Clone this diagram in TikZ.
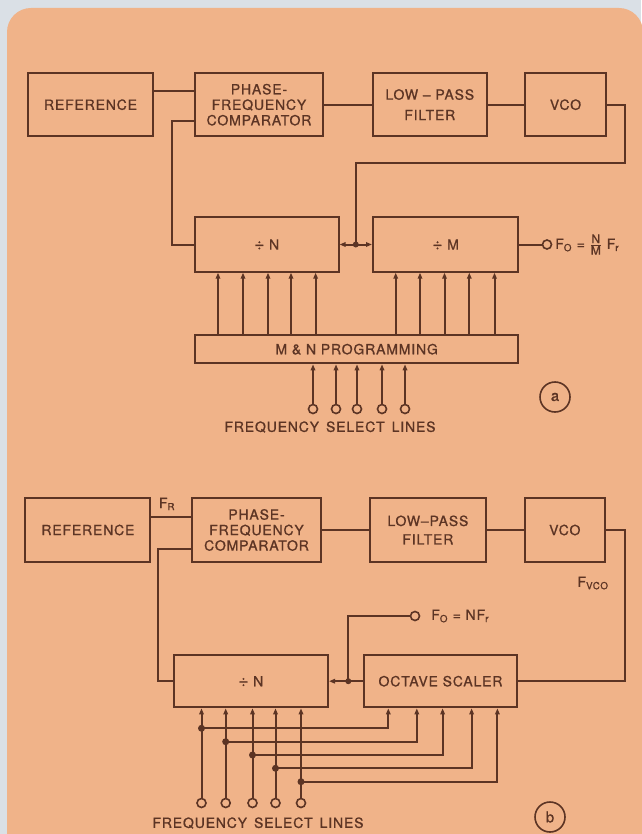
\documentclass[tikz,border=0pt]{standalone}
\usepackage{fontspec}
\setmainfont{TeX Gyre Heros}[LetterSpace=6,FakeBold=1]
\usetikzlibrary{arrows.meta,calc}
\definecolor{bggrey}{RGB}{218,224,230}
\definecolor{panel}{RGB}{240,179,137}
\definecolor{ink}{RGB}{92,52,36}
\newcommand{\dvd}{{\fontsize{17}{17}\selectfont ÷}}
\begin{document}
\begin{tikzpicture}[x=1pt,y=-1pt,line width=2pt,draw=ink,
  box/.style={draw=ink,line width=2pt,inner sep=0pt,align=center,font=\fontsize{14}{15.5}\selectfont,text=ink},
  pin/.style={draw=ink,circle,line width=1.6pt,inner sep=0pt,minimum size=9pt},
  lbl/.style={font=\fontsize{14}{15}\selectfont,text=ink,inner sep=0pt},
  sel/.style={font=\fontsize{14}{15}\selectfont,text=ink,inner sep=0pt},
  tag/.style={draw=ink,circle,line width=1.6pt,minimum size=30pt,inner sep=0pt,font=\fontsize{15}{15}\selectfont,text=ink},
  dot/.style={fill=ink,circle,inner sep=0pt,minimum size=6pt},
  arr/.style={-{Triangle[length=6pt,width=4.5pt]}}]
\useasboundingbox (0,0) rectangle (641,834);
\fill[bggrey] (0,0) rectangle (641,834);
\fill[panel,rounded corners=24pt] (7,8) rectangle (643,870);

% ---------------- (a)
\node[box,minimum width=125.5pt,minimum height=62.7pt] (refA) at (90.5,104.7) {REFERENCE};
\node[box,minimum width=128pt,minimum height=62.7pt] (pfcA) at (259,104.7) {PHASE-\\FREQUENCY\\COMPARATOR};
\node[box,minimum width=113.5pt,minimum height=62.7pt] (lpfA) at (429.8,104.7) {LOW \textendash\ PASS\\[5pt]FILTER};
\node[box,minimum width=81pt,minimum height=62.7pt] (vcoA) at (565.5,104.7) {VCO};
\node[box,minimum width=143.5pt,minimum height=54.4pt] (divN) at (266.8,244.5) {\dvd\ N};
\node[box,minimum width=145.4pt,minimum height=54.4pt] (divM) at (445.7,244.5) {\dvd\ M};
\node[box,minimum width=323.4pt,minimum height=28.3pt] (prog) at (356.7,349.2) {M \& N PROGRAMMING};

\draw (refA.east |- 0,90.7) -- (pfcA.west |- 0,90.7);
\draw (pfcA.west |- 0,120.7) -- ++(-22.5,0) |- (divN.west);
\draw (pfcA.east) -- (lpfA.west);
\draw (lpfA.east) -- (vcoA.west);
\coordinate (jA) at ($(divN.east)!0.5!(divM.west)$);
\draw (vcoA.east) -- ++(18,0) |- (jA |- 0,163.3) -- (jA);
\draw[arr] (jA) -- (divN.east);
\draw[arr] (jA) -- (divM.west);
\node[dot] (jAd) at (jA) {};
\node[pin] (outA) at (547,244.5) {};
\draw (divM.east) -- (outA.west);
\node[lbl,anchor=west] (foA) at ([xshift=2pt]outA.east) {F\textsubscript{O} = $\frac{\hbox{\fontsize{12}{12}\selectfont N}}{\hbox{\fontsize{12}{12}\selectfont M}}$ F\textsubscript{r}};
\foreach \x in {218,243,268,291,315.6} \draw[arr] (prog.north -| \x,0) -- (divN.south -| \x,0);
\foreach \x in {395.7,420,444.5,469.3,494.5} \draw[arr] (prog.north -| \x,0) -- (divM.south -| \x,0);
\foreach \x [count=\i] in {313,336,357,382,405} {
  \node[pin] (sa\i) at (\x,409) {};
  \draw[arr] (sa\i.north) -- (prog.south -| sa\i);
}
\node[sel] (fslA) at (330,427) {FREQUENCY\hspace{7pt}SELECT\hspace{7pt}LINES};
\node[tag] (tagA) at (555,397) {a};

% ---------------- (b)
\node[box,minimum width=125pt,minimum height=63.4pt] (refB) at (87.9,530) {REFERENCE};
\node[box,minimum width=129pt,minimum height=63.4pt] (pfcB) at (256.5,530) {PHASE-\\FREQUENCY\\COMPARATOR};
\node[box,minimum width=115.7pt,minimum height=63.4pt] (lpfB) at (427.9,530) {LOW\textendash PASS\\[3pt]FILTER};
\node[box,minimum width=80.5pt,minimum height=63.4pt] (vcoB) at (564.8,530) {VCO};
\node[box,minimum width=154.2pt,minimum height=52.3pt] (divNB) at (250.9,681.2) {\dvd\ N};
\node[box,minimum width=153pt,minimum height=52.3pt] (oct) at (440.5,681.2) {OCTAVE SCALER};

\draw (refB.east |- 0,517.3) -- (pfcB.west |- 0,517.3);
\node[lbl] (frB) at (167,504) {F\textsubscript{R}};
\draw (pfcB.west |- 0,549.3) -- ++(-32.6,0) |- (divNB.west);
\draw (pfcB.east) -- (lpfB.west);
\draw (lpfB.east) -- (vcoB.west);
\draw (vcoB.east) -- ++(18.7,0) |- (oct.east);
\node[lbl] (fvco) at (593,583) {F\textsubscript{VCO}};
\coordinate (jB) at (348.3,681.2);
\draw (oct.west) -- (jB);
\draw[arr] (jB) -- (divNB.east);
\node[dot] (jBd) at (jB) {};
\node[pin] (outB) at (415,616) {};
\draw (jB) |- (outB.west);
\node[lbl,anchor=west] (foB) at ([xshift=10pt]outB.east) {F\textsubscript{O} = NF\textsubscript{r}};
\foreach \x/\y/\X [count=\i] in {201.5/728.3/388.3,225.7/741.7/416.8,252.5/755/442.6,275.5/768.3/471.6,301/781.7/497.4} {
  \node[pin] (sb\i) at (\x,803) {};
  \draw[arr] (sb\i.north) -- (divNB.south -| sb\i);
  \coordinate (db\i) at (\x,\y);
  \draw[arr] (db\i) -| (oct.south -| \X,0);
  \node[dot,minimum size=7pt] (dbd\i) at (db\i) {};
}
\node[sel] (fslB) at (258,823) {FREQUENCY\hspace{7pt}SELECT\hspace{7pt}LINES};
\node[tag] (tagB) at (550,817) {b};
\end{tikzpicture}
\end{document}
